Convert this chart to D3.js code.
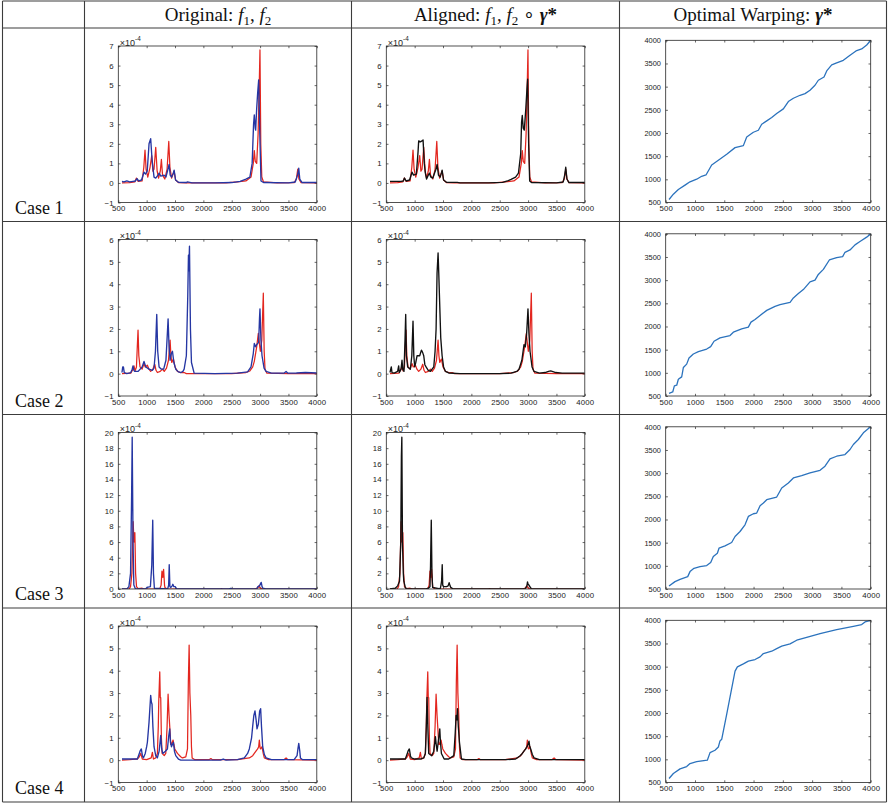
<!DOCTYPE html>
<html>
<head>
<meta charset="utf-8">
<script src="https://cdn.jsdelivr.net/npm/d3@7"></script>
<style>
  body { margin: 0; background: #fff; }
  svg { display: block; }
  .tick text { font-family: "Liberation Sans", Arial, sans-serif; fill: #1a1a1a; }
</style>
</head>
<body>
<svg id="fig" width="888" height="805"></svg>
<script>
// ---------- column headers and row labels ----------
const caseLabels = ["Case 1", "Case 2", "Case 3", "Case 4"];

// ---------- tick values ----------
const xTickValues = [500, 1000, 1500, 2000, 2500, 3000, 3500, 4000];
const warpTickValues = [500, 1000, 1500, 2000, 2500, 3000, 3500, 4000];
const yTicksCase1 = [-1, 0, 1, 2, 3, 4, 5, 6, 7];
const yTicksCase2 = [-1, 0, 1, 2, 3, 4, 5, 6];
const yTicksCase3 = [0, 2, 4, 6, 8, 10, 12, 14, 16, 18, 20];
const yTicksCase4 = [-1, 0, 1, 2, 3, 4, 5, 6];

// ---------- spectra, [wavenumber, intensity x 1e-4] ----------
const case1F1 = [[565,0],[700,0.02],[790,0.05],[820,0.25],[850,0.08],[920,0.1],[950,0.8],[971,1.68],[990,0.7],[1020,0.3],[1060,0.8],[1089,1.4],[1110,0.6],[1130,0.7],[1160,1.82],[1185,0.6],[1210,0.25],[1240,0.6],[1260,1.2],[1280,0.4],[1320,0.2],[1360,0.7],[1390,2.12],[1410,0.8],[1440,0.25],[1470,0.5],[1484,0.6],[1510,0.15],[1560,0.02],[1700,0],[2000,0],[2400,0],[2600,0.05],[2750,0.1],[2840,0.3],[2880,1.0],[2898,1.65],[2915,1.1],[2940,1.0],[2965,2.5],[2985,5.0],[2998,6.8],[3012,2.0],[3030,0.3],[3060,0.05],[3300,0],[3600,0.02],[3640,0.2],[3664,0.7],[3685,0.2],[3720,0.02],[4000,0]];
const case1F2 = [[565,0.08],[600,0.05],[650,0.1],[700,0.05],[760,0.08],[800,0.1],[830,0.22],[860,0.1],[910,0.15],[953,0.55],[980,0.45],[1010,0.6],[1042,2.0],[1071,2.26],[1095,1.2],[1130,0.3],[1160,0.25],[1200,0.4],[1219,0.5],[1250,0.35],[1307,0.4],[1340,0.3],[1375,0.7],[1396,0.95],[1415,0.4],[1440,0.3],[1470,0.5],[1484,0.65],[1510,0.15],[1560,0.03],[1700,0.02],[1720,0.05],[1800,0],[2200,0],[2500,0.02],[2650,0.08],[2750,0.2],[2820,0.3],[2860,1.0],[2885,3.0],[2898,3.48],[2915,2.8],[2922,2.7],[2940,3.8],[2957,4.6],[2975,5.26],[2995,2.5],[3016,0.1],[3060,0.02],[3500,0],[3620,0.05],[3660,0.4],[3682,0.75],[3700,0.2],[3740,0.02],[4000,0.02]];
const case1Aligned = [[565,0.08],[650,0.08],[760,0.08],[800,0.1],[820,0.25],[850,0.1],[910,0.15],[953,0.55],[980,0.4],[1030,0.45],[1060,1.6],[1071,2.15],[1100,2.1],[1130,2.15],[1148,2.2],[1170,1.0],[1189,0.5],[1210,0.2],[1240,0.4],[1260,0.5],[1285,0.3],[1320,0.25],[1375,0.7],[1396,0.95],[1420,0.4],[1450,0.3],[1475,0.55],[1484,0.65],[1510,0.15],[1560,0.03],[1750,0.03],[1800,0],[2300,0],[2550,0.03],[2650,0.12],[2700,0.18],[2780,0.3],[2830,0.5],[2870,1.5],[2885,3.1],[2898,3.45],[2915,2.8],[2933,2.7],[2960,3.8],[2980,4.8],[2992,5.3],[3010,2.0],[3028,0.1],[3060,0.02],[3500,0],[3620,0.05],[3645,0.4],[3664,0.8],[3685,0.2],[3720,0.02],[4000,0.02]];

const case2F1 = [[565,0],[720,0.02],[760,0.2],[777,0.35],[795,0.12],[820,0.3],[835,1.2],[848,1.95],[862,0.8],[883,0.3],[920,0.2],[953,0.45],[975,0.3],[1013,0.38],[1040,0.2],[1071,0.1],[1110,0.2],[1142,0.42],[1165,0.15],[1189,0.05],[1240,0.1],[1278,0.2],[1310,0.1],[1350,0.25],[1385,0.6],[1413,1.5],[1428,0.8],[1443,0.5],[1460,0.6],[1472,0.65],[1500,0.3],[1543,0.1],[1600,0.05],[1661,0.05],[1700,0],[2500,0],[2750,0.05],[2820,0.12],[2870,0.3],[2898,0.55],[2940,1.2],[2969,1.8],[2990,1.3],[3004,1.0],[3030,1.5],[3057,3.6],[3072,1.0],[3087,0.2],[3120,0.02],[3500,0],[4000,0]];
const case2F2 = [[565,0.05],[578,0.3],[590,0.3],[605,0.05],[650,0],[720,0.05],[745,0.2],[759,0.35],[775,0.15],[789,0.1],[850,0.1],[920,0.3],[953,0.55],[985,0.3],[1042,0.2],[1100,0.15],[1130,0.25],[1155,1.0],[1178,2.65],[1195,1.0],[1219,0.3],[1260,0.2],[1300,0.2],[1340,0.6],[1365,1.8],[1378,2.45],[1395,1.2],[1413,0.6],[1435,0.9],[1455,1.0],[1480,0.5],[1513,0.2],[1560,0.08],[1602,0.05],[1640,0.1],[1661,0.2],[1700,0.8],[1725,3.5],[1737,5.3],[1743,4.6],[1755,5.7],[1772,2.0],[1790,0.5],[1837,0.02],[2200,0],[2600,0.02],[2780,0.08],[2840,0.3],[2880,0.9],[2898,1.35],[2920,1.2],[2940,1.3],[2975,1.4],[2990,2.5],[2998,2.9],[3015,1.5],[3034,0.8],[3070,0.25],[3105,0.1],[3200,0.02],[3420,0.02],[3458,0.1],[3490,0.02],[3640,0.03],[3800,0.05],[4000,0.03]];
const case2Aligned = [[565,0.05],[588,0.3],[600,0.05],[640,0.02],[700,0.1],[718,0.35],[730,0.05],[760,0.2],[777,0.6],[790,0.2],[812,0.1],[830,1.5],[842,2.65],[855,0.8],[877,0.3],[924,0.2],[950,0.8],[971,2.35],[985,0.8],[1001,0.3],[1020,0.5],[1042,0.8],[1089,0.8],[1119,1.05],[1140,0.95],[1160,0.8],[1180,0.4],[1201,0.3],[1240,0.15],[1278,0.1],[1337,0.3],[1360,1.0],[1378,2.0],[1395,4.5],[1413,5.4],[1425,4.5],[1437,3.5],[1460,1.6],[1484,0.8],[1510,0.3],[1543,0.1],[1600,0.03],[1800,0],[2500,0],[2700,0.02],[2800,0.1],[2840,0.2],[2890,0.6],[2928,1.3],[2951,1.2],[2975,1.8],[2998,2.9],[3015,1.8],[3034,1.0],[3070,0.3],[3105,0.1],[3200,0.02],[3300,0.05],[3360,0.1],[3399,0.12],[3450,0.08],[3487,0.05],[3600,0.02],[4000,0.02]];

const case3F1 = [[565,0],[690,0],[716,0.3],[740,2.0],[762,8.6],[776,6.0],[792,7.2],[805,2.0],[821,0.3],[850,0.05],[920,0.1],[960,0],[1230,0],[1255,0.5],[1270,2.3],[1285,1.5],[1299,2.5],[1315,0.5],[1322,0.2],[1360,0],[2300,0],[2320,0.05],[2340,0],[2900,0],[2960,0.15],[2979,0.4],[3002,0.1],[3050,0],[4000,0]];
const case3F2 = [[565,0],[650,0],[687,0.3],[716,2.0],[735,12],[745,19.4],[760,6],[774,0.5],[803,0],[980,0],[1007,0.2],[1066,0.3],[1090,3],[1107,8.8],[1120,2],[1136,0.1],[1370,0],[1388,0.5],[1398,3.1],[1410,0.3],[1427,0.2],[1450,0.4],[1462,0.6],[1480,0.3],[1503,0.3],[1530,0.02],[2450,0],[2480,0.08],[2510,0],[2940,0],[2962,0.3],[2990,0.4],[3008,0.7],[3020,0.85],[3035,0.3],[3049,0.1],[3100,0],[4000,0]];
const case3Aligned = [[565,0],[657,0.1],[700,0.4],[733,1.0],[755,6],[766,17],[774,19.4],[785,6],[800,2],[809,1.0],[835,0.2],[862,0],[1200,0],[1241,0.1],[1270,0.3],[1280,3],[1293,8.8],[1305,2],[1317,0.2],[1450,0],[1462,0.4],[1475,1],[1486,3.1],[1495,0.5],[1509,0.3],[1562,0.3],[1590,0.4],[1608,0.8],[1625,0.4],[1637,0.2],[1680,0],[2950,0],[2970,0.3],[2979,0.4],[2990,0.9],[3000,0.6],[3015,0.5],[3032,0.3],[3060,0],[4000,0]];

const case4F1 = [[565,0],[700,0.02],[800,0.05],[836,0.05],[870,0.15],[895,0.3],[924,0.05],[1000,0.02],[1080,0.1],[1101,0.35],[1119,0.05],[1160,0.1],[1189,0.3],[1205,1.5],[1213,2.6],[1231,3.95],[1240,2.8],[1248,2.8],[1260,1.0],[1272,0.3],[1310,0.2],[1337,0.3],[1360,1.5],[1378,2.95],[1395,2.0],[1407,1.5],[1425,0.7],[1437,0.7],[1466,0.9],[1480,0.7],[1496,0.5],[1543,0.3],[1600,0.15],[1631,0.1],[1690,0.15],[1720,0.5],[1735,3.5],[1749,5.15],[1762,3.0],[1778,2.0],[1790,0.6],[1802,0.1],[1850,0.02],[2100,0.02],[2132,0.07],[2160,0.02],[2600,0.02],[2810,0.1],[2870,0.2],[2898,0.3],[2940,0.45],[2957,0.5],[2975,0.6],[2987,0.9],[3000,0.55],[3010,0.5],[3034,0.6],[3055,0.3],[3075,0.1],[3150,0.02],[3420,0.02],[3458,0.1],[3490,0.02],[4000,0]];
const case4F2 = [[565,0.05],[700,0.05],[836,0.05],[870,0.3],[883,0.4],[906,0.5],[925,0.2],[942,0.1],[975,0.3],[1000,0.6],[1013,0.8],[1042,1.7],[1071,2.9],[1083,2.6],[1095,2.5],[1110,1.5],[1130,0.6],[1160,0.2],[1189,0.1],[1220,0.4],[1248,1.1],[1265,0.5],[1284,0.3],[1330,0.4],[1366,0.5],[1390,1.1],[1407,1.4],[1420,0.8],[1437,0.6],[1472,0.8],[1490,0.4],[1513,0.2],[1560,0.05],[1602,0],[2300,0],[2350,0.05],[2400,0],[2600,0.02],[2722,0.1],[2780,0.3],[2810,0.5],[2850,1.0],[2869,1.5],[2890,2.0],[2910,2.2],[2930,1.8],[2946,1.4],[2969,1.6],[2985,2.0],[2992,2.2],[3010,2.3],[3025,1.5],[3046,0.6],[3075,0.25],[3105,0.1],[3200,0.02],[3600,0.02],[3652,0.2],[3667,0.5],[3682,0.75],[3700,0.4],[3711,0.1],[3750,0.02],[4000,0.02]];
const case4Aligned = [[565,0.05],[700,0.05],[800,0.05],[836,0.05],[870,0.3],[883,0.4],[906,0.5],[925,0.2],[942,0.1],[1000,0.05],[1100,0.05],[1160,0.1],[1189,0.3],[1205,1.5],[1219,2.8],[1232,1.5],[1248,0.3],[1300,0.2],[1337,0.4],[1355,0.8],[1366,1.05],[1380,0.7],[1396,0.4],[1420,0.9],[1443,1.4],[1455,0.8],[1472,0.3],[1520,0.05],[1600,0.05],[1690,0.2],[1715,1.2],[1731,2.0],[1745,1.8],[1755,2.3],[1770,1.5],[1790,0.8],[1825,0.05],[1900,0.02],[2600,0.02],[2780,0.05],[2860,0.2],[2898,0.3],[2940,0.45],[2957,0.5],[2990,0.65],[3016,0.85],[3030,0.6],[3046,0.5],[3075,0.25],[3105,0.1],[3200,0.02],[4000,0.02]];

// ---------- optimal warping functions, [t, gamma(t)] ----------
const case1Warp = [[557,565],[631,680],[716,780],[830,874],[915,946],[1029,1003],[1114,1066],[1188,1094],[1285,1310],[1399,1410],[1542,1540],[1684,1684],[1826,1727],[1883,1914],[1997,2016],[2082,2059],[2139,2188],[2225,2261],[2310,2333],[2395,2419],[2509,2520],[2594,2678],[2680,2750],[2794,2814],[2879,2850],[2964,2922],[3049,3030],[3106,3138],[3203,3209],[3249,3339],[3334,3468],[3419,3511],[3533,3569],[3647,3677],[3749,3770],[3846,3813],[3932,3899],[4000,4000]];
const case2Warp = [[557,558],[620,587],[648,717],[688,732],[716,862],[773,913],[802,1116],[858,1188],[898,1319],[972,1406],[1058,1457],[1200,1514],[1268,1565],[1325,1681],[1427,1754],[1598,1804],[1655,1877],[1797,1949],[1911,1986],[1956,2094],[2025,2152],[2111,2239],[2225,2348],[2367,2435],[2452,2471],[2623,2522],[2680,2616],[2765,2710],[2850,2797],[2964,2964],[3049,3000],[3106,3123],[3192,3232],[3294,3435],[3419,3486],[3521,3507],[3561,3601],[3647,3652],[3732,3761],[3817,3833],[3931,3928],[4000,4000]];
const case3Warp = [[557,565],[659,659],[745,709],[876,767],[915,875],[983,947],[1086,983],[1200,1005],[1268,1070],[1313,1200],[1382,1272],[1410,1380],[1513,1431],[1626,1503],[1684,1633],[1769,1741],[1854,1886],[1911,2066],[1997,2124],[2054,2138],[2111,2297],[2168,2355],[2225,2427],[2395,2485],[2481,2680],[2594,2788],[2680,2896],[2822,2946],[2964,3004],[3135,3062],[3220,3149],[3305,3307],[3419,3365],[3561,3401],[3647,3510],[3704,3618],[3789,3726],[3875,3870],[3977,3978],[4000,4000]];
const case4Warp = [[557,586],[631,694],[745,794],[858,844],[915,909],[1029,952],[1211,981],[1257,1145],[1342,1196],[1399,1267],[1427,1397],[1456,1432],[1541,1970],[1684,2903],[1724,2996],[1826,3060],[1911,3118],[2025,3154],[2111,3211],[2168,3283],[2310,3333],[2395,3390],[2481,3441],[2623,3491],[2737,3570],[2907,3634],[3135,3713],[3419,3799],[3704,3871],[3846,3907],[3903,3964],[4000,4000]];

const cases = [
  { f1: case1F1, f2: case1F2, aligned: case1Aligned, warp: case1Warp, yDomain: [-1, 7], yTicks: yTicksCase1 },
  { f1: case2F1, f2: case2F2, aligned: case2Aligned, warp: case2Warp, yDomain: [-1, 6], yTicks: yTicksCase2 },
  { f1: case3F1, f2: case3F2, aligned: case3Aligned, warp: case3Warp, yDomain: [0, 20], yTicks: yTicksCase3 },
  { f1: case4F1, f2: case4F2, aligned: case4Aligned, warp: case4Warp, yDomain: [-1, 6], yTicks: yTicksCase4 }
];

// ---------- layout ----------
const svg = d3.select("#fig");
svg.append("rect").attr("width", 888).attr("height", 805).attr("fill", "#fff");

const colLines = [2.5, 84.5, 351.5, 619.5, 886.5];
const rowLines = [1, 28, 221.5, 414.5, 608, 802];
const RED = "#e3261f", BLUE = "#2536a3", BLACK = "#111", WARP = "#2c73bd", AXIS = "#262626";
const serif = "'Liberation Serif','Times New Roman',Times,serif";

// table grid
const grid = svg.append("g").attr("stroke", "#3c3c3c").attr("stroke-width", 1.1);
colLines.forEach(x => grid.append("line").attr("x1", x).attr("x2", x).attr("y1", rowLines[0]).attr("y2", rowLines[rowLines.length - 1]));
rowLines.forEach(y => grid.append("line").attr("x1", colLines[0]).attr("x2", colLines[colLines.length - 1]).attr("y1", y).attr("y2", y));

// column headers
function header(cx, parts) {
  const t = svg.append("text").attr("x", cx).attr("y", 20.5).attr("text-anchor", "middle")
    .attr("font-family", serif).attr("font-size", 19).attr("fill", "#111");
  parts.forEach(p => {
    const s = t.append("tspan").text(p.t);
    if (p.i) s.attr("font-style", "italic");
    if (p.b) s.attr("font-weight", "bold");
    if (p.sub) s.attr("font-size", 13).attr("dy", 4);
    if (p.up) s.attr("dy", -4);
  });
}
header((colLines[1] + colLines[2]) / 2, [
  { t: "Original: " }, { t: "f", i: 1 }, { t: "1", sub: 1 }, { t: ", ", up: 1 }, { t: "f", i: 1 }, { t: "2", sub: 1 }
]);
header((colLines[2] + colLines[3]) / 2, [
  { t: "Aligned: " }, { t: "f", i: 1 }, { t: "1", sub: 1 }, { t: ", ", up: 1 }, { t: "f", i: 1 }, { t: "2", sub: 1 },
  { t: " \u2218 ", up: 1 }, { t: "\u03b3", i: 1, b: 1 }, { t: "*", b: 1 }
]);
header((colLines[3] + colLines[4]) / 2, [
  { t: "Optimal Warping: " }, { t: "\u03b3", i: 1, b: 1 }, { t: "*", b: 1 }
]);

// row labels
caseLabels.forEach((lab, i) => {
  svg.append("text").attr("x", 15).attr("y", rowLines[i + 2] - 8)
    .attr("font-family", serif).attr("font-size", 18).attr("fill", "#111").text(lab);
});

// ---------- panels ----------
let clipId = 0;
function panel(box, xDomain, yDomain, yTicks, lines, opts) {
  const g = svg.append("g");
  const x = d3.scaleLinear().domain(xDomain).range([box.x0, box.x1]);
  const y = d3.scaleLinear().domain(yDomain).range([box.y1, box.y0]);

  const cid = "clip" + (clipId++);
  g.append("clipPath").attr("id", cid).append("rect")
    .attr("x", box.x0).attr("y", box.y0).attr("width", box.x1 - box.x0).attr("height", box.y1 - box.y0);

  const styleAxis = (sel, labelSize, spacing) => {
    sel.select(".domain").remove();
    sel.selectAll(".tick line").attr("stroke", AXIS).attr("stroke-width", 0.7);
    sel.selectAll(".tick text").attr("font-size", labelSize).attr("letter-spacing", spacing);
  };
  const fmt = d => (d < 0 ? "\u2212" + Math.abs(d) : String(d));

  g.append("g").attr("transform", `translate(0,${box.y1})`)
    .call(d3.axisBottom(x).tickValues(xTickValues).tickFormat(fmt).tickSizeInner(-2.2).tickSizeOuter(0).tickPadding(3.4))
    .call(s => styleAxis(s, 7.8, 0.15));
  g.append("g").attr("transform", `translate(0,${box.y0})`)
    .call(d3.axisTop(x).tickValues(xTickValues).tickFormat("").tickSizeInner(-2.2).tickSizeOuter(0))
    .call(s => styleAxis(s, 7, 0));
  g.append("g").attr("transform", `translate(${box.x0},0)`)
    .call(d3.axisLeft(y).tickValues(yTicks).tickFormat(fmt).tickSizeInner(-2.2).tickSizeOuter(0).tickPadding(4.8))
    .call(s => styleAxis(s, opts.ySize, opts.ySpacing));
  g.append("g").attr("transform", `translate(${box.x1},0)`)
    .call(d3.axisRight(y).tickValues(yTicks).tickFormat("").tickSizeInner(-2.2).tickSizeOuter(0))
    .call(s => styleAxis(s, 7, 0));

  const line = d3.line().x(d => x(d[0])).y(d => y(d[1]));
  const plot = g.append("g").attr("clip-path", `url(#${cid})`);
  lines.forEach(l => {
    plot.append("path").datum(l.data).attr("d", line).attr("fill", "none")
      .attr("stroke", l.color).attr("stroke-width", l.w).attr("stroke-linejoin", "round");
  });

  g.append("rect").attr("x", box.x0).attr("y", box.y0).attr("width", box.x1 - box.x0).attr("height", box.y1 - box.y0)
    .attr("fill", "none").attr("stroke", AXIS).attr("stroke-width", 0.8);

  if (opts.exponent) {
    const t = g.append("text").attr("x", box.x0 + 1.5).attr("y", box.y0 - 0.5)
      .attr("font-family", "'Liberation Sans',Arial,sans-serif").attr("font-size", 9).attr("fill", AXIS);
    t.append("tspan").text("\u00d710");
    t.append("tspan").attr("dy", -4.2).attr("font-size", 6.4).text("-4");
  }
}

cases.forEach((c, i) => {
  const top = rowLines[i + 1];
  const sBox = (x0, x1) => ({ x0, x1, y0: top + 18, y1: top + 174.5 });
  panel(sBox(118.3, 316.8), [500, 4000], c.yDomain, c.yTicks,
    [{ data: c.f1, color: RED, w: 1.25 }, { data: c.f2, color: BLUE, w: 1.35 }],
    { exponent: true, ySize: 7.8, ySpacing: 0 });
  panel(sBox(386.3, 584.8), [500, 4000], c.yDomain, c.yTicks,
    [{ data: c.f1, color: RED, w: 1.25 }, { data: c.aligned, color: BLACK, w: 1.35 }],
    { exponent: true, ySize: 7.8, ySpacing: 0 });
  panel({ x0: 665.7, x1: 870.7, y0: top + 12.3, y1: top + 174.5 }, [500, 4000], [500, 4000], warpTickValues,
    [{ data: c.warp, color: WARP, w: 1.3 }],
    { exponent: false, ySize: 7.4, ySpacing: 0 });
});
</script>
</body>
</html>
